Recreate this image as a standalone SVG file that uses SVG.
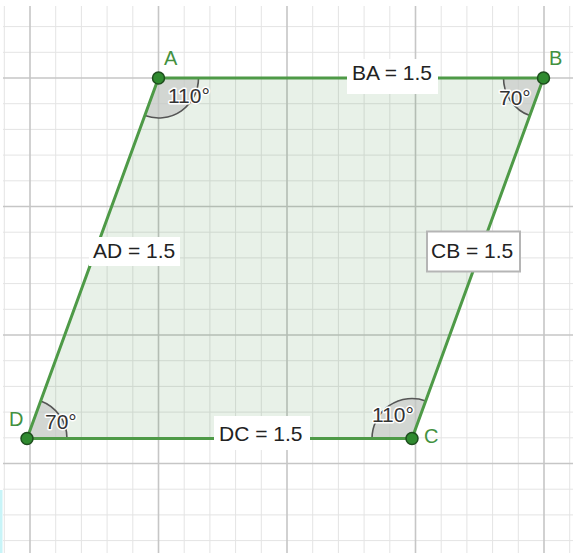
<svg xmlns="http://www.w3.org/2000/svg" width="573" height="553" viewBox="0 0 573 553">
<style>
.minor{stroke:#e4e4e4;stroke-width:1;fill:none}
.major{stroke:#c6c6c6;stroke-width:1.6;fill:none}
.seg{stroke:#4e9a47;stroke-width:3;stroke-linecap:round;fill:none}
.ang{fill:#c9cbc9;fill-opacity:0.7;stroke:none}
.arc{fill:none;stroke:#555;stroke-width:1.6}
.pt{fill:#2f8a2f;stroke:#1d4d1d;stroke-width:1.5}
.plbl{font-family:"Liberation Sans",Arial,sans-serif;font-size:20px;fill:#43913f}
.albl{font-family:"Liberation Sans",Arial,sans-serif;font-size:21px;fill:#333;stroke:#fff;stroke-width:3;paint-order:stroke;stroke-linejoin:round}
.slbl{font-family:"Liberation Sans",Arial,sans-serif;font-size:21px;fill:#222}
.box{fill:#fff}
</style>
<rect width="573" height="553" fill="#fff"/>
<rect x="0" y="490" width="2.5" height="63" fill="#c8f4f8"/>
<g id="grid">
<path class="minor" d="M4.3 6V553M55.7 6V553M81.4 6V553M107.1 6V553M132.8 6V553M184.2 6V553M209.9 6V553M235.6 6V553M261.3 6V553M312.7 6V553M338.4 6V553M364.1 6V553M389.8 6V553M441.2 6V553M466.9 6V553M492.6 6V553M518.3 6V553M569.7 6V553
M3 26.6H573M3 52.3H573M3 103.7H573M3 129.4H573M3 155.1H573M3 180.8H573M3 232.2H573M3 257.9H573M3 283.6H573M3 309.3H573M3 360.7H573M3 386.4H573M3 412.1H573M3 437.8H573M3 489.2H573M3 514.9H573M3 540.6H573"/>
<path class="major" d="M30 6V553M158.5 6V553M287 6V553M415.5 6V553M544 6V553M3 78H573M3 206.5H573M3 335H573M3 463.5H573"/>
</g>
<g id="parallelogram">
<polygon points="158.5,78 543.5,78 412,438.5 27,438.5" fill="#1e7a1e" fill-opacity="0.1"/>
</g>
<g id="angles">
<g id="angle-A"><path class="ang" d="M158.5 78L198.5 78A40 40 0 0 1 144.8 115.6Z"/><path class="arc" d="M198.5 78A40 40 0 0 1 144.8 115.6"/></g>
<g id="angle-B"><path class="ang" d="M543.5 78L503.5 78A40 40 0 0 0 529.8 115.6Z"/><path class="arc" d="M503.5 78A40 40 0 0 0 529.8 115.6"/></g>
<g id="angle-D"><path class="ang" d="M27 438.5L67 438.5A40 40 0 0 0 40.7 400.9Z"/><path class="arc" d="M67 438.5A40 40 0 0 0 40.7 400.9"/></g>
<g id="angle-C"><path class="ang" d="M412 438.5L372 438.5A40 40 0 0 1 425.7 400.9Z"/><path class="arc" d="M372 438.5A40 40 0 0 1 425.7 400.9"/></g>
</g>
<g id="connectors">
<line id="seg-BA" class="seg" x1="158.5" y1="78" x2="543.5" y2="78"/>
<line id="seg-CB" class="seg" x1="543.5" y1="78" x2="412" y2="438.5"/>
<line id="seg-DC" class="seg" x1="412" y1="438.5" x2="27" y2="438.5"/>
<line id="seg-AD" class="seg" x1="27" y1="438.5" x2="158.5" y2="78"/>
</g>
<g id="angle-labels">
<text class="albl" x="168" y="103">110°</text>
<text class="albl" x="499" y="105">70°</text>
<text class="albl" x="45" y="429">70°</text>
<text class="albl" x="372" y="422">110°</text>
</g>
<g id="label-BA"><rect class="box" x="347" y="59" width="91" height="35"/><text class="slbl" x="352" y="80">BA = 1.5</text></g>
<g id="label-AD"><rect class="box" x="89" y="237" width="91" height="29"/><text class="slbl" x="93" y="258">AD = 1.5</text></g>
<g id="label-CB"><rect x="427" y="231.5" width="93" height="40" fill="#fff" stroke="#b5b5b5" stroke-width="2"/><text class="slbl" x="431" y="258">CB = 1.5</text></g>
<g id="label-DC"><rect class="box" x="214" y="416" width="96" height="34"/><text class="slbl" x="219" y="441">DC = 1.5</text></g>
<g id="node-A"><circle class="pt" cx="158.5" cy="78" r="6"/><text class="plbl" x="164" y="65">A</text></g>
<g id="node-B"><circle class="pt" cx="543.5" cy="78" r="6"/><text class="plbl" x="549" y="65">B</text></g>
<g id="node-C"><circle class="pt" cx="412" cy="438.5" r="6"/><text class="plbl" x="424" y="443">C</text></g>
<g id="node-D"><circle class="pt" cx="27" cy="438.5" r="6"/><text class="plbl" x="9" y="426">D</text></g>
</svg>
